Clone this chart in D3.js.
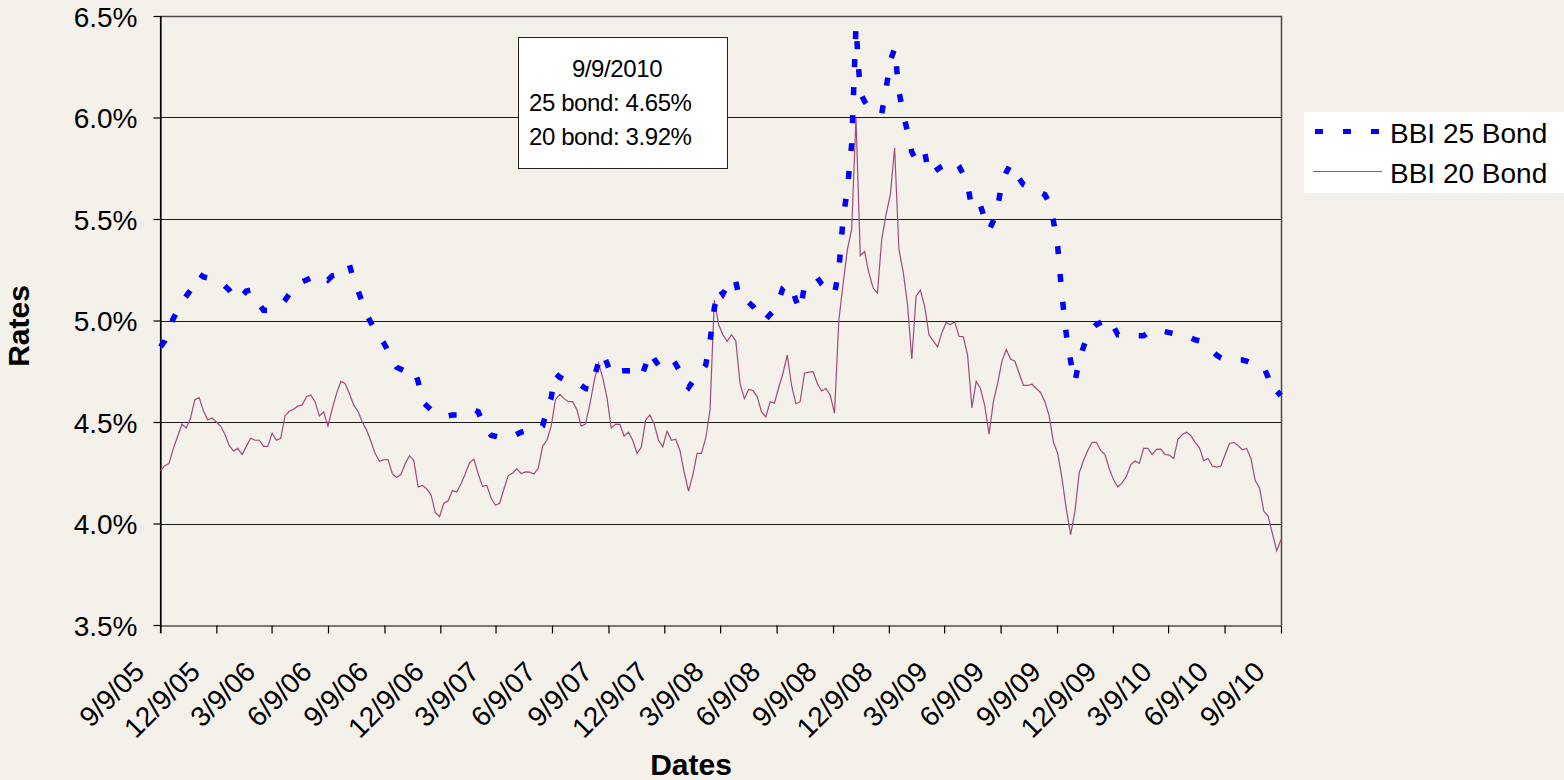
<!DOCTYPE html>
<html>
<head>
<meta charset="utf-8">
<script src="https://cdn.jsdelivr.net/npm/d3@7"></script>
<style>
  body { margin: 0; background: #f4f0ea; }
  text { font-family: "Liberation Sans", Arial, sans-serif; fill: #000; }
</style>
</head>
<body>
<svg id="chart" width="1564" height="780"></svg>
<script>
// weekly series, first point 9/9/05, last point 9/9/10
const firstDate = "9/9/05";
const lastDate = "9/9/10";
const annotationDate = "9/9/2010";

const tickLabels = ["9/9/05", "12/9/05", "3/9/06", "6/9/06", "9/9/06", "12/9/06", "3/9/07",
  "6/9/07", "9/9/07", "12/9/07", "3/9/08", "6/9/08", "9/9/08", "12/9/08", "3/9/09",
  "6/9/09", "9/9/09", "12/9/09", "3/9/10", "6/9/10", "9/9/10"];

const rateTicks = [3.5, 4.0, 4.5, 5.0, 5.5, 6.0, 6.5];

const seriesNames = ["BBI 25 Bond", "BBI 20 Bond"];

const rate25 = [
  4.87, 4.90, 4.96, 5.01, 5.05, 5.09, 5.12, 5.15, 5.19, 5.23,
  5.215, 5.21, 5.20, 5.195, 5.19, 5.17, 5.15, 5.12, 5.10, 5.12,
  5.145, 5.15, 5.12, 5.08, 5.05, 5.05, 5.06, 5.07, 5.076, 5.10,
  5.13, 5.16, 5.185, 5.19, 5.20, 5.21, 5.22, 5.224, 5.22, 5.20,
  5.22, 5.225, 5.25, 5.27, 5.275, 5.20, 5.147, 5.09, 5.03, 4.99,
  4.95, 4.92, 4.89, 4.85, 4.81, 4.77, 4.76, 4.75, 4.755, 4.76,
  4.70, 4.60, 4.58, 4.56, 4.545, 4.535, 4.53, 4.53, 4.535, 4.535,
  4.535, 4.54, 4.55, 4.56, 4.55, 4.50, 4.46, 4.435, 4.43, 4.425,
  4.42, 4.425, 4.43, 4.44, 4.45, 4.455, 4.46, 4.46, 4.465, 4.48,
  4.56, 4.62, 4.74, 4.72, 4.71, 4.70, 4.70, 4.69, 4.68, 4.665,
  4.66, 4.72, 4.79, 4.84, 4.79, 4.73, 4.74, 4.75, 4.753, 4.753,
  4.753, 4.74, 4.72, 4.78, 4.845, 4.81, 4.78, 4.75, 4.755, 4.77,
  4.785, 4.75, 4.69, 4.67, 4.70, 4.72, 4.75, 4.78, 4.90, 5.06,
  5.16, 5.13, 5.17, 5.21, 5.19, 5.10, 5.09, 5.09, 5.07, 5.04,
  5.00, 5.005, 5.03, 5.05, 5.10, 5.16, 5.18, 5.17, 5.10, 5.05,
  5.17, 5.19, 5.20, 5.21, 5.18, 5.16, 5.14, 5.13, 5.25, 5.50,
  5.65, 5.87, 6.45, 6.12, 6.08, 6.05, 6.03, 6.02, 6.02, 6.14,
  6.28, 6.34, 6.13, 6.02, 5.93, 5.83, 5.79, 5.83, 5.83, 5.72,
  5.73, 5.745, 5.76, 5.77, 5.78, 5.786, 5.76, 5.72, 5.67, 5.55,
  5.55, 5.566, 5.50, 5.446, 5.49, 5.56, 5.68, 5.73, 5.77, 5.74,
  5.70, 5.67, 5.66, 5.65, 5.64, 5.63, 5.62, 5.58, 5.49, 5.36,
  5.12, 4.93, 4.80, 4.70, 4.80, 4.87, 4.93, 4.96, 4.98, 4.99,
  5.00, 5.01, 4.97, 4.93, 4.93, 4.93, 4.93, 4.925, 4.925, 4.925,
  4.94, 4.95, 4.957, 4.95, 4.945, 4.94, 4.935, 4.933, 4.932, 4.925,
  4.915, 4.905, 4.90, 4.89, 4.87, 4.85, 4.83, 4.815, 4.81, 4.806,
  4.805, 4.805, 4.805, 4.80, 4.79, 4.785, 4.78, 4.77, 4.72, 4.66,
  4.63, 4.65
];

const rate20 = [
  4.26, 4.285, 4.296, 4.37, 4.43, 4.49, 4.47, 4.52, 4.61, 4.62,
  4.555, 4.51, 4.52, 4.50, 4.48, 4.44, 4.385, 4.357, 4.37, 4.34,
  4.38, 4.42, 4.41, 4.41, 4.38, 4.38, 4.445, 4.41, 4.42, 4.53,
  4.553, 4.563, 4.578, 4.584, 4.625, 4.633, 4.60, 4.53, 4.55, 4.48,
  4.565, 4.64, 4.70, 4.69, 4.64, 4.583, 4.553, 4.50, 4.46, 4.405,
  4.345, 4.307, 4.314, 4.315, 4.245, 4.227, 4.241, 4.295, 4.334, 4.31,
  4.18, 4.187, 4.171, 4.142, 4.055, 4.034, 4.10, 4.112, 4.162, 4.155,
  4.196, 4.245, 4.30, 4.316, 4.245, 4.183, 4.188, 4.127, 4.09, 4.10,
  4.17, 4.236, 4.248, 4.27, 4.246, 4.254, 4.253, 4.244, 4.272, 4.38,
  4.41, 4.48, 4.61, 4.636, 4.615, 4.60, 4.60, 4.56, 4.48, 4.49,
  4.585, 4.70, 4.79, 4.72, 4.62, 4.47, 4.49, 4.488, 4.43, 4.45,
  4.41, 4.345, 4.375, 4.51, 4.535, 4.49, 4.41, 4.378, 4.455, 4.41,
  4.415, 4.36, 4.25, 4.16, 4.24, 4.345, 4.345, 4.42, 4.56, 5.10,
  4.98, 4.93, 4.897, 4.93, 4.90, 4.69, 4.615, 4.66, 4.655, 4.625,
  4.55, 4.525, 4.60, 4.593, 4.67, 4.74, 4.83, 4.68, 4.59, 4.60,
  4.74, 4.746, 4.748, 4.69, 4.653, 4.665, 4.633, 4.543, 5.00, 5.18,
  5.35, 5.45, 6.00, 5.32, 5.34, 5.235, 5.16, 5.135, 5.40, 5.52,
  5.62, 5.85, 5.35, 5.24, 5.08, 4.81, 5.12, 5.15, 5.07, 4.93,
  4.90, 4.87, 4.94, 4.99, 4.98, 4.993, 4.922, 4.92, 4.83, 4.57,
  4.70, 4.665, 4.58, 4.44, 4.60, 4.69, 4.80, 4.857, 4.81, 4.80,
  4.74, 4.68, 4.68, 4.686, 4.665, 4.645, 4.60, 4.53, 4.40, 4.345,
  4.22, 4.07, 3.945, 4.06, 4.25, 4.31, 4.36, 4.40, 4.40, 4.36,
  4.34, 4.27, 4.215, 4.18, 4.20, 4.233, 4.29, 4.308, 4.296, 4.37,
  4.37, 4.34, 4.365, 4.366, 4.34, 4.337, 4.32, 4.415, 4.438, 4.45,
  4.433, 4.40, 4.373, 4.31, 4.32, 4.283, 4.278, 4.283, 4.34, 4.394,
  4.40, 4.384, 4.363, 4.37, 4.32, 4.21, 4.175, 4.06, 4.037, 3.95,
  3.866, 3.92
];

const parseDate = d3.timeParse("%m/%d/%y");
const start = parseDate(firstDate), end = parseDate(lastDate);
const n = rate20.length;
const dates = d3.range(n).map(i => new Date(+start + (end - start) * i / (n - 1)));
const data25 = rate25.map((v, i) => ({ date: dates[i], v }));
const data20 = rate20.map((v, i) => ({ date: dates[i], v }));

const plot = { left: 160.5, right: 1281, top: 16, bottom: 625 };

const svg = d3.select("#chart");

svg.append("rect").attr("width", 1564).attr("height", 780).attr("fill", "#f4f0ea");

const x = d3.scaleTime().domain([start, end]).range([plot.left, plot.right]);
const y = d3.scaleLinear().domain([3.5, 6.5]).range([plot.bottom, plot.top]);

const crisp = v => Math.round(v) + 0.5;

// gridlines
svg.append("g")
  .selectAll("line")
  .data(rateTicks.slice(1, -1))
  .join("line")
  .attr("x1", plot.left)
  .attr("x2", plot.right)
  .attr("y1", d => crisp(y(d)))
  .attr("y2", d => crisp(y(d)))
  .attr("stroke", "#1a1a1a")
  .attr("stroke-width", 1);

// plot border top + right
svg.append("path")
  .attr("d", `M${plot.left},${crisp(plot.top)}H${crisp(plot.right)}V${plot.bottom}`)
  .attr("fill", "none")
  .attr("stroke", "#4a4a4a")
  .attr("stroke-width", 1.5);

// axes
const yAxis = svg.append("g")
  .attr("transform", `translate(${plot.left},0)`)
  .call(d3.axisLeft(y)
    .tickValues(rateTicks)
    .tickFormat(d => d.toFixed(1) + "%")
    .tickSize(7)
    .tickSizeOuter(0)
    .tickPadding(16));
yAxis.selectAll("text")
  .style("font-size", "28px")
  .attr("dy", "0.37em");

const xAxis = svg.append("g")
  .attr("transform", `translate(0,${crisp(plot.bottom)})`)
  .call(d3.axisBottom(x)
    .tickValues(tickLabels.map(parseDate))
    .tickFormat(d3.timeFormat("%-m/%-d/%y"))
    .tickSize(8)
    .tickSizeOuter(0));
xAxis.selectAll("text")
  .attr("x", 0)
  .attr("y", 0)
  .attr("dy", 0)
  .attr("text-anchor", "end")
  .attr("transform", "translate(-15,48) rotate(-45)")
  .style("font-size", "28px");

svg.selectAll(".domain, .tick line").attr("stroke", "#000").attr("stroke-width", 1.2);
svg.selectAll(".tick text").attr("fill", "#000");
// left axis reaches down to the first x tick
svg.append("line")
  .attr("x1", plot.left).attr("x2", plot.left)
  .attr("y1", plot.top).attr("y2", plot.bottom + 8)
  .attr("stroke", "#000").attr("stroke-width", 1.2);

// lines
const line = d3.line().x(d => x(d.date)).y(d => y(d.v));

svg.append("path")
  .datum(data20)
  .attr("d", line)
  .attr("fill", "none")
  .attr("stroke", "#a24a7c")
  .attr("stroke-width", 1.2);

svg.append("path")
  .datum(data25)
  .attr("d", line)
  .attr("fill", "none")
  .attr("stroke", "#0000ff")
  .attr("stroke-width", 5.5)
  .attr("stroke-dasharray", "8,20");

// annotation box
const note = svg.append("g");
note.append("rect")
  .attr("x", 518.5).attr("y", 37.5)
  .attr("width", 209).attr("height", 131)
  .attr("fill", "#fff").attr("stroke", "#222").attr("stroke-width", 1);
note.append("text")
  .attr("x", 617).attr("y", 77)
  .attr("text-anchor", "middle")
  .style("font-size", "24px").style("letter-spacing", "-0.4px")
  .text(annotationDate);
note.append("text")
  .attr("x", 529).attr("y", 111)
  .style("font-size", "24px").style("letter-spacing", "-0.4px")
  .text(`25 bond: ${rate25[n - 1].toFixed(2)}%`);
note.append("text")
  .attr("x", 529).attr("y", 145)
  .style("font-size", "24px").style("letter-spacing", "-0.4px")
  .text(`20 bond: ${rate20[n - 1].toFixed(2)}%`);

// legend
const legend = svg.append("g");
legend.append("rect")
  .attr("x", 1304).attr("y", 112)
  .attr("width", 270).attr("height", 81)
  .attr("fill", "#fff");
legend.append("line")
  .attr("x1", 1315).attr("x2", 1382)
  .attr("y1", 131.5).attr("y2", 131.5)
  .attr("stroke", "#0000ff").attr("stroke-width", 5)
  .attr("stroke-dasharray", "8,20");
legend.append("line")
  .attr("x1", 1313).attr("x2", 1382)
  .attr("y1", 171.5).attr("y2", 171.5)
  .attr("stroke", "#a24a7c").attr("stroke-width", 1.2);
legend.selectAll("text.lbl")
  .data(seriesNames)
  .join("text")
  .attr("class", "lbl")
  .attr("x", 1390)
  .attr("y", (d, i) => 143 + i * 40)
  .style("font-size", "28px")
  .text(d => d);

// axis titles
svg.append("text")
  .attr("transform", "translate(29,326) rotate(-90)")
  .attr("text-anchor", "middle")
  .style("font-size", "30px")
  .style("font-weight", "bold")
  .text("Rates");

svg.append("text")
  .attr("x", 691)
  .attr("y", 775)
  .attr("text-anchor", "middle")
  .style("font-size", "30px")
  .style("font-weight", "bold")
  .text("Dates");
</script>
</body>
</html>
